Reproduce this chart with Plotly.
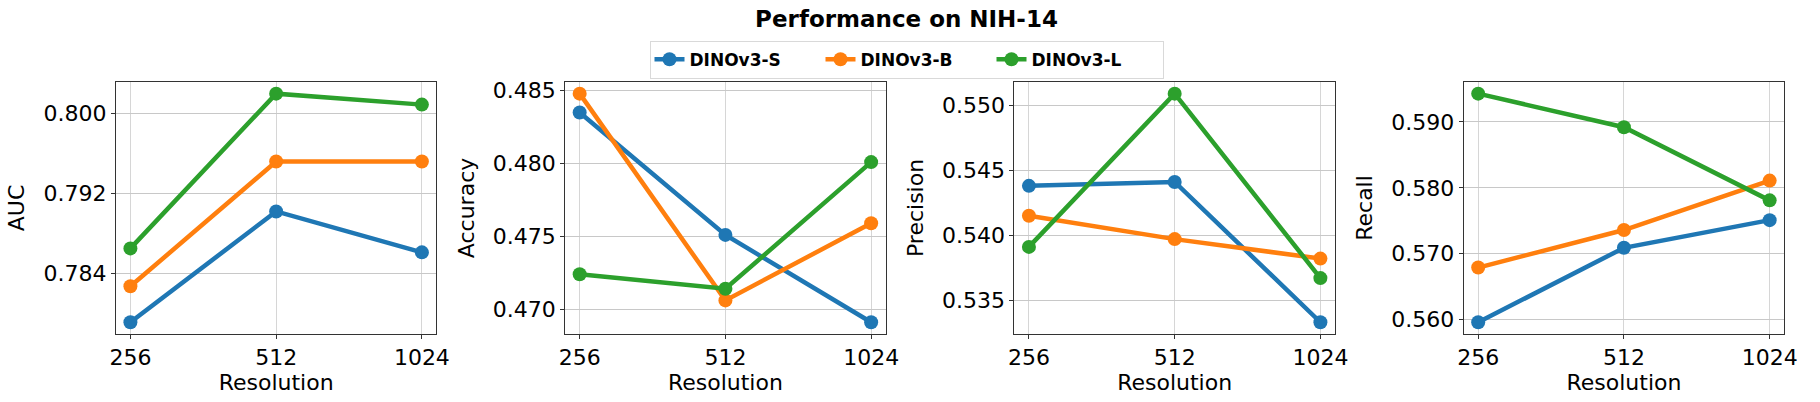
import plotly.graph_objects as go

resolutions = ["256", "512", "1024"]
models = ["DINOv3-S", "DINOv3-B", "DINOv3-L"]
colors = ["#1f77b4", "#ff7f0e", "#2ca02c"]

metrics = ["AUC", "Accuracy", "Precision", "Recall"]

auc_s = [0.7791, 0.7902, 0.7861]
auc_b = [0.7827, 0.7952, 0.7952]
auc_l = [0.7865, 0.8020, 0.8009]

acc_s = [0.4835, 0.4751, 0.4691]
acc_b = [0.4848, 0.4706, 0.4759]
acc_l = [0.4724, 0.4714, 0.4801]

prec_s = [0.5438, 0.5441, 0.5333]
prec_b = [0.5415, 0.5397, 0.5382]
prec_l = [0.5391, 0.5509, 0.5367]

rec_s = [0.5596, 0.5709, 0.5751]
rec_b = [0.5679, 0.5736, 0.5811]
rec_l = [0.5943, 0.5892, 0.5781]

yticks_auc = [0.784, 0.792, 0.800]
yticks_acc = [0.470, 0.475, 0.480, 0.485]
yticks_prec = [0.535, 0.540, 0.545, 0.550]
yticks_rec = [0.560, 0.570, 0.580, 0.590]

data = {
    "AUC": [auc_s, auc_b, auc_l],
    "Accuracy": [acc_s, acc_b, acc_l],
    "Precision": [prec_s, prec_b, prec_l],
    "Recall": [rec_s, rec_b, rec_l],
}
yticks = {
    "AUC": yticks_auc,
    "Accuracy": yticks_acc,
    "Precision": yticks_prec,
    "Recall": yticks_rec,
}

W, H = 1820, 402
lefts = [111, 565, 1019, 1473]
pw = 324
top_px, bot_px = 79, 333
FONT = "DejaVu Sans"

fig = go.Figure()
layout = dict(
    width=W, height=H,
    margin=dict(l=0, r=0, t=0, b=0),
    paper_bgcolor="white", plot_bgcolor="white",
    font=dict(family=FONT, color="black"),
    showlegend=True,
)

xidx = list(range(len(resolutions)))
for i, m in enumerate(metrics):
    ax = "" if i == 0 else str(i + 1)
    for j, name in enumerate(models):
        vals = data[m][j]
        fig.add_trace(go.Scatter(
            x=xidx, y=vals, mode="lines+markers", name=name,
            line=dict(color=colors[j], width=4.5),
            marker=dict(color=colors[j], size=14),
            xaxis="x" + ax, yaxis="y" + ax,
            showlegend=(i == 0), legendgroup=name,
        ))
    allv = [v for s in data[m] for v in s]
    lo, hi = min(allv), max(allv)
    pad = (hi - lo) * 0.05
    layout["xaxis" + ax] = dict(
        domain=[lefts[i] / W, (lefts[i] + pw) / W],
        anchor="y" + ax,
        range=[-0.1, 2.1],
        tickmode="array", tickvals=xidx, ticktext=resolutions,
        tickfont=dict(size=22, family=FONT),
        ticks="outside", ticklen=4, tickcolor="#333",
        showline=True, linecolor="#333", linewidth=1, mirror=True,
        showgrid=True, gridcolor="#d6d6d6", gridwidth=1,
        zeroline=False,
        title=dict(text="Resolution", font=dict(size=22, family=FONT), standoff=3),
    )
    layout["yaxis" + ax] = dict(
        domain=[1 - bot_px / H, 1 - top_px / H],
        anchor="x" + ax,
        range=[lo - pad, hi + pad],
        tickmode="array", tickvals=yticks[m],
        ticktext=["%.3f" % v for v in yticks[m]],
        tickfont=dict(size=22, family=FONT),
        ticks="outside", ticklen=4, tickcolor="#333",
        showline=True, linecolor="#333", linewidth=1, mirror=True,
        showgrid=True, gridcolor="#c8c8c8", gridwidth=1,
        zeroline=False,
        title=dict(text=m, font=dict(size=22, family=FONT), standoff=12),
    )

layout["title"] = dict(
    text="<b>Performance on NIH-14</b>",
    x=0.5, xanchor="center", xref="paper",
    y=1 - 19 / H, yanchor="middle", yref="container",
    font=dict(size=23, family=FONT, color="black"),
)
layout["legend"] = dict(
    orientation="h", x=0.5, xanchor="center",
    y=1 - 37 / H, yanchor="top",
    bordercolor="#d9d9d9", borderwidth=1, bgcolor="white",
    font=dict(size=17, family=FONT, color="black", weight="bold"),
    entrywidth=126, entrywidthmode="pixels",
)
fig.update_layout(**layout)
fig.write_html(
    "out.html",
    config={"displayModeBar": False},
    post_script="document.body.style.margin='0px';document.body.style.padding='0px';",
)
